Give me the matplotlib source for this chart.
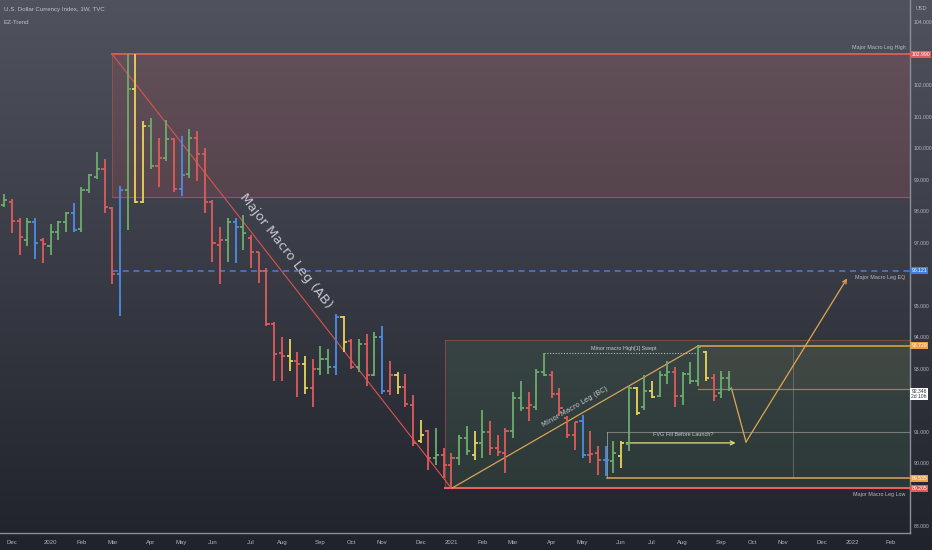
import numpy as np
import pandas as pd
import matplotlib
matplotlib.use("Agg")
import matplotlib.pyplot as plt
import matplotlib.transforms as mtransforms
from matplotlib.collections import LineCollection

# U.S. Dollar Currency Index, weekly bars, first bar = week of 25 Nov 2019
opens = [98.2, 98.3, 97.7, 97.1, 97.65, 97.1, 96.9, 97.35, 97.66, 97.94,
         97.45, 98.67, 99.1, 99.36, 98.1, 96.0, 98.67, 101.9, 98.3, 100.7,
         99.45, 99.7, 100.3, 98.7, 99.2, 100.33, 99.83, 98.3, 96.94, 97.1,
         97.66, 97.5, 97.15, 96.7, 96.1, 94.42, 93.5, 93.42, 93.26, 93.16,
         92.38, 93.0, 93.3, 93.07, 94.64, 93.9, 93.07, 93.8, 92.79, 94.0,
         92.3, 92.8, 92.44, 91.84, 90.7, 91.03, 90.18, 90.27, 89.96, 90.18,
         90.8, 90.27, 90.65, 91.0, 90.5, 90.33, 91.03, 92.06, 91.75, 91.8,
         92.9, 92.8, 92.2, 91.45, 90.9, 91.35, 90.27, 90.33, 90.1, 90.08,
         90.24, 90.6, 92.4, 91.8, 92.3, 92.15, 92.79, 92.9, 92.15, 92.85,
         92.6, 93.54, 92.7, 92.22, 92.7]
highs = [98.55, 98.4, 97.8, 97.8, 97.8, 97.15, 97.6, 97.7, 97.97, 98.26,
         98.76, 99.2, 99.9, 99.67, 98.13, 98.82, 102.99, 102.99, 100.87, 100.96,
         100.33, 100.9, 100.33, 100.4, 100.6, 100.55, 100.0, 98.35, 97.5, 97.8,
         97.79, 97.88, 97.25, 96.72, 96.2, 94.48, 94.0, 93.95, 93.54, 93.42,
         93.32, 93.73, 93.64, 94.74, 94.67, 93.95, 93.95, 94.1, 94.17, 94.36,
         93.26, 92.9, 92.85, 92.16, 91.37, 91.06, 91.12, 90.5, 90.33, 90.9,
         91.18, 91.03, 91.69, 91.34, 90.9, 91.12, 92.28, 92.6, 92.28, 93.0,
         93.5, 92.94, 92.38, 91.5, 91.3, 91.53, 91.03, 90.55, 90.55, 90.7,
         90.7, 92.47, 92.44, 92.79, 92.6, 92.94, 93.26, 93.07, 92.9, 93.23,
         93.73, 93.57, 92.85, 92.94, 92.94]
lows = [98.15, 97.3, 96.6, 96.9, 96.5, 96.37, 96.6, 97.1, 97.35, 97.35,
        97.35, 98.57, 99.04, 97.94, 95.68, 94.67, 97.4, 98.26, 98.26, 99.36,
        98.76, 99.6, 98.6, 98.5, 99.07, 98.98, 97.94, 96.4, 95.68, 96.4,
        96.37, 96.78, 96.2, 95.74, 94.36, 92.6, 92.6, 92.94, 92.12, 92.2,
        91.8, 92.8, 92.85, 92.8, 93.54, 93.0, 92.9, 92.47, 92.76, 92.2,
        92.16, 92.2, 91.8, 90.55, 90.65, 89.8, 89.96, 89.55, 89.2, 89.96,
        90.27, 90.1, 90.18, 90.27, 90.24, 89.7, 90.8, 91.65, 91.34, 91.69,
        92.76, 92.06, 91.5, 90.8, 90.43, 90.18, 90.0, 89.64, 89.6, 89.7,
        89.86, 90.4, 91.53, 91.69, 92.06, 92.1, 92.53, 91.8, 91.84, 92.53,
        92.47, 92.63, 91.97, 92.06, 92.3]
closes = [98.35, 97.7, 97.2, 97.65, 97.0, 96.95, 97.35, 97.66, 97.94, 97.4,
          98.67, 99.14, 99.36, 98.13, 96.0, 98.67, 101.9, 98.3, 100.7, 99.45,
          99.7, 100.3, 98.7, 99.15, 100.33, 99.83, 98.3, 97.0, 97.1, 97.65,
          97.5, 97.3, 96.7, 96.1, 94.42, 93.48, 93.4, 93.26, 93.16, 92.38,
          93.0, 93.3, 93.07, 94.64, 93.86, 93.07, 93.8, 92.79, 94.0, 92.3,
          92.8, 92.44, 91.9, 90.65, 90.9, 90.18, 90.27, 89.96, 90.18, 90.8,
          90.4, 90.65, 91.0, 90.5, 90.35, 91.03, 92.06, 91.75, 91.85, 92.9,
          92.8, 92.2, 91.75, 90.9, 91.3, 90.27, 90.3, 90.1, 90.1, 90.33,
          90.65, 92.4, 91.6, 92.3, 92.12, 92.79, 92.9, 92.15, 92.85, 92.6,
          93.7, 92.7, 92.15, 92.7, 92.346]
# EZ-Trend colouring of each bar
trend = ("grrgbrgggb" "gggrrbgyyg" "rgrbgrrrrg" "bgrrrrryry" "rggbyrgrgb"
         "ryrryrgrrg" "gygrrrggrg" "grrrrbrrbg" "ygygyggrgg" "gyrgg")

first_week = "2019-11-25"
n_slots = 118

# levels drawn on the chart
leg_high = 102.99
leg_low = 89.205
leg_eq = 96.121
supply_low = 98.45
demand_top = 93.92
swept_high = 93.5
minor_high = 93.729
last_price = 92.346
fvg_top = 91.0
fvg_low = 89.535
fvg_arrow = 90.65
path_x = [94.3, 96.2, 109.3]
path_y = [92.4, 90.68, 95.87]

pal = {"g": "#6cad6c", "r": "#df5b5b", "b": "#4d8de6", "y": "#e4d65a"}
txt_col = "#b2b5be"
sm = "Liberation Sans"   # narrow-ish face for the small TradingView labels

fig = plt.figure(figsize=(9.32, 5.5), dpi=100)

# dark gradient background
bg = fig.add_axes([0, 0, 1, 1], zorder=0)
top = np.array([80, 82, 94]) / 255
bot = np.array([32, 35, 43]) / 255
g = np.linspace(0, 1, 256)[:, None, None]
bg.imshow(top + (bot - top) * g, aspect="auto", extent=[0, 1, 0, 1])
bg.axis("off")

ax = fig.add_axes([0, 17 / 550, 910 / 932, 533 / 550], zorder=1)
ax.set_facecolor("none")
xmin, xmax = -0.56, 117.47
ax.set_xlim(xmin, xmax)
ax.set_ylim(87.79, 104.71)

# supply zone (red) and macro leg
ax.fill_between([14, xmax], supply_low, leg_high, color="#e05a5a", alpha=0.15, lw=0)
ax.plot([14, xmax], [leg_high, leg_high], color="#e05c5c", lw=1.3)
ax.plot([14, xmax], [supply_low, supply_low], color="#d9534f", lw=0.8, alpha=0.7)
ax.plot([14, 14], [supply_low, leg_high], color="#d9534f", lw=0.6, alpha=0.5)
ax.plot([14, 58], [leg_high, leg_low], color="#d9534f", lw=0.8)
ax.plot([14, xmax], [leg_eq, leg_eq], color="#4a7fd6", lw=1.1, dashes=(4, 3))

# demand zone (green)
ax.fill_between([57.2, xmax], leg_low, demand_top, color="#5fae6a", alpha=0.13, lw=0)
ax.plot([57.2, xmax, xmax, 57.2, 57.2], [demand_top, demand_top, leg_low, leg_low, demand_top],
        color="#d9534f", lw=0.6, alpha=0.55)
ax.plot([57.2, xmax], [leg_low, leg_low], color="#e86060", lw=1.5)

# minor leg and swept high
ax.plot([58, 90], [leg_low, minor_high], color="#d9a25a", lw=0.9)
ax.plot([70, 90], [swept_high, swept_high], color="#b8bbc2", lw=0.8, ls=(0, (1, 1.5)))
ax.plot([90, xmax], [minor_high, minor_high], color="#e8a548", lw=1.1)
ax.fill_between([90, xmax], last_price, minor_high, color="#c89060", alpha=0.07, lw=0)
ax.plot([90, xmax], [last_price, last_price], color="#b07a45", lw=0.9)
ax.plot([102.3, 102.3], [fvg_low, minor_high], color="#8a8d96", lw=0.6, alpha=0.6)

# FVG box
ax.plot([78.2, xmax], [fvg_top, fvg_top], color="#8e8d84", lw=0.8, alpha=0.8)
ax.plot([78.2, xmax], [fvg_low, fvg_low], color="#dba35c", lw=1.1)
ax.plot([78.2, 78.2], [fvg_low, fvg_top], color="#a0a3aa", lw=0.7, alpha=0.8)
ax.annotate("", xy=(95.2, fvg_arrow), xytext=(80.3, fvg_arrow),
            arrowprops=dict(arrowstyle="->", color="#e6e07a", lw=0.9, mutation_scale=7))
ax.text(88.0, 90.92, "FVG Fill Before Launch?", family=sm, fontsize=4.0, color="#c8cad0",
        ha="center", va="center")

# projected path
ax.plot(path_x[:2], path_y[:2], color="#e0a552", lw=0.9)
ax.annotate("", xy=(path_x[2], path_y[2]), xytext=(path_x[1], path_y[1]),
            arrowprops=dict(arrowstyle="->", color="#e0a552", lw=0.9, mutation_scale=7,
                            shrinkA=0, shrinkB=0))

# OHLC bars
segs, cols = [], []
for i in range(len(opens)):
    c = pal[trend[i]]
    segs += [[(i, lows[i]), (i, highs[i])],
             [(i - 0.4, opens[i]), (i, opens[i])],
             [(i, closes[i]), (i + 0.4, closes[i])]]
    cols += [c, c, c]
ax.add_collection(LineCollection(segs, colors=cols, linewidths=1.3, zorder=3))


# rotated leg labels
def screen_angle(p1, p2):
    a = ax.transData.transform(p1)
    b = ax.transData.transform(p2)
    return np.degrees(np.arctan2(b[1] - a[1], b[0] - a[0]))


ax.text(36.5, 96.75, "Major Macro Leg (AB)", fontsize=9.5, color="#c5c7cd", family="DejaVu Sans",
        rotation=screen_angle((14, leg_high), (58, leg_low)), rotation_mode="anchor",
        ha="center", va="center", zorder=4)
ax.text(74.0, 91.8, "Minor Macro Leg (BC)", fontsize=5, color="#c5c7cd", family="DejaVu Sans",
        rotation=screen_angle((58, leg_low), (90, minor_high)), rotation_mode="anchor",
        ha="center", va="center", zorder=4)
ax.text(80.3, 93.64, "Minor macro High[1] Swept", family=sm, fontsize=3.9, color="#c8cad0",
        ha="center", va="center", zorder=4)

ax.text(116.9, 103.2, "Major Macro Leg High", family=sm, fontsize=3.9, color="#b8bbc2",
        ha="right", va="center")
ax.text(116.9, 95.9, "Major Macro Leg EQ", family=sm, fontsize=3.9, color="#b8bbc2",
        ha="right", va="center")
ax.text(116.9, 89.0, "Major Macro Leg Low", family=sm, fontsize=3.9, color="#b8bbc2",
        ha="right", va="center")

# axes styling
for s in ["top", "left"]:
    ax.spines[s].set_visible(False)
for s in ["right", "bottom"]:
    ax.spines[s].set_color("#8c8f98")
    ax.spines[s].set_linewidth(1.0)

ax.yaxis.tick_right()
yt = [88, 90, 91, 93, 94, 95, 97, 98, 99, 100, 101, 102, 104]
ax.set_yticks(yt)
ax.set_yticklabels(["%.3f" % v for v in yt], family=sm, fontsize=3.7)
ax.tick_params(axis="y", length=0, pad=2.5, labelcolor=txt_col)

dates = pd.date_range(first_week, periods=n_slots, freq="7D")
xt, xl = [], []
for k in range(1, n_slots):
    if dates[k].month != dates[k - 1].month:
        xt.append(k)
        xl.append(str(dates[k].year) if dates[k].month == 1 else dates[k].strftime("%b"))
ax.set_xticks(xt)
ax.set_xticklabels(xl, family=sm, fontsize=4.3)
ax.tick_params(axis="x", length=0, pad=5, labelcolor=txt_col)

# price labels on the axis
tr = mtransforms.blended_transform_factory(ax.transAxes, ax.transData)
price_tags = [(leg_high, "102.990", "#e05c5c", "white"),
              (leg_eq, "96.121", "#3f7fe0", "white"),
              (minor_high, "93.729", "#eea14a", "white"),
              (fvg_low, "89.535", "#eea14a", "white"),
              (leg_low, "89.205", "#e05c5c", "white")]
for v, t, fc, tc in price_tags:
    ax.text(1.0015, v, t, transform=tr, family=sm, fontsize=3.7, color=tc, ha="left", va="center",
            bbox=dict(boxstyle="square,pad=0.2", fc=fc, ec="none"), clip_on=False)
ax.text(1.0015, 92.2, "92.346\n2d 10h", transform=tr, family=sm, fontsize=3.6, color="#2a2e39",
        ha="left", va="center", linespacing=1.1,
        bbox=dict(boxstyle="square,pad=0.2", fc="white", ec="none"), clip_on=False)

fig.text(921 / 932, 1 - 8 / 550, "USD", family=sm, fontsize=4.0, color=txt_col, ha="center", va="center")
fig.text(4 / 932, 1 - 10 / 550, "U.S. Dollar Currency Index, 1W, TVC", family=sm, fontsize=4.4,
         color="#c0c3ca", ha="left", va="center")
fig.text(4 / 932, 1 - 22 / 550, "EZ-Trend", family=sm, fontsize=4.4, color="#c0c3ca",
         ha="left", va="center")

fig.savefig("out.png", dpi=100)
